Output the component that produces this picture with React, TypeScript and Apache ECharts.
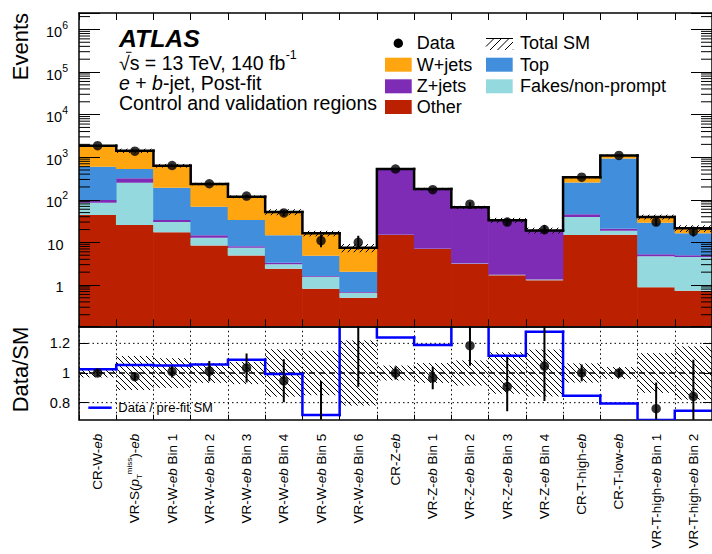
import React, { useEffect, useRef } from 'react';
import * as echarts from 'echarts';

// ---------------- data ----------------
const categories = [
  'CR-W-eb', 'VR-S(pTmiss)-eb', 'VR-W-eb Bin 1', 'VR-W-eb Bin 2', 'VR-W-eb Bin 3',
  'VR-W-eb Bin 4', 'VR-W-eb Bin 5', 'VR-W-eb Bin 6', 'CR-Z-eb', 'VR-Z-eb Bin 1',
  'VR-Z-eb Bin 2', 'VR-Z-eb Bin 3', 'VR-Z-eb Bin 4', 'CR-T-high-eb', 'CR-T-low-eb',
  'VR-T-high-eb Bin 1', 'VR-T-high-eb Bin 2',
];

// stacked backgrounds, bottom -> top
const otherEvents = [44, 25.6, 17.3, 8.4, 4.9, 2.41, 0.82, 0.5, 14.9, 7.0, 3.1, 1.69, 1.29, 14.9, 15.2, 0.88, 0.73];
const fakesEvents = [41, 226, 12.7, 4.5, 2.6, 0.65, 0.73, 0.16, 0.3, 0.1, 0.1, 0.05, 0.05, 24.6, 3.6, 3.82, 3.81];
const zjetsEvents = [14, 68, 3.6, 1.8, 0.6, 0.28, 0.08, 0.02, 509, 171, 63, 31, 17.6, 6.2, 2.2, 0.55, 0.44];
const topEvents = [499, 208, 158, 54.3, 25.5, 11.4, 3.24, 1.37, 3, 0.5, 0.3, 0.2, 0.1, 209, 909, 23.75, 11.4];
const wjetsEvents = [1262, 892, 441, 166, 84.4, 37, 11.4, 5.45, 1, 0.4, 0.2, 0.1, 0.06, 85, 170, 10.5, 5.0];

const dataEvents = [1860, 1384, 638, 238, 122, 49, 11, 10, 528, 173, 79, 30, 20, 340, 1100, 30, 18];
const dataErrUp = [43, 37, 25, 16, 11.5, 7.5, 4.4, 4.3, 23, 13.5, 9, 6.6, 5.5, 19, 33, 7, 5.3];
const dataErrDown = [43, 37, 25, 16, 11.5, 7.5, 3.3, 3.2, 23, 13.5, 9, 5.5, 4.5, 19, 33, 5.5, 4.2];

// relative post-fit uncertainty of the total SM
const totalUnc = [0.03, 0.115, 0.1, 0.067, 0.075, 0.16, 0.15, 0.22, 0.05, 0.067, 0.085, 0.14, 0.158, 0.065, 0.04, 0.134, 0.18];
// data / pre-fit SM
const prefitRatio = [1.025, 1.054, 1.05, 1.058, 1.09, 0.993, 0.717, 1.5, 1.24, 1.189, 1.5, 1.117, 1.279, 0.847, 0.795, 0.683, 0.746];

const logTickExponents = [0, 1, 2, 3, 4, 5, 6];
const ratioTicks = [0.8, 1, 1.2];

// ---------------- styles ----------------
const FONT = "'Liberation Sans', Arial, Helvetica, sans-serif";
const layerStyles = [
  { name: 'Other', color: '#bb2000' },
  { name: 'Fakes/non-prompt', color: '#94d9dd' },
  { name: 'Z+jets', color: '#7e2bb6' },
  { name: 'Top', color: '#418fdc' },
  { name: 'W+jets', color: '#fea50f' },
];
const Y_MIN = 0.107;
const Y_MAX = 2.43e6;
const R_MIN = 0.685;
const R_MAX = 1.315;

const N = categories.length;
const layers = [otherEvents, fakesEvents, zjetsEvents, topEvents, wjetsEvents];
const lowers: number[][] = [];
const uppers: number[][] = [];
let running = new Array(N).fill(0);
layers.forEach((layer) => {
  lowers.push(running.slice());
  running = running.map((r, i) => r + layer[i]);
  uppers.push(running.slice());
});
const totalSM = running;

function hatch(x0: number, y0: number, x1: number, y1: number, step: number, dir: number, lw = 1) {
  const out: any[] = [];
  if (x1 <= x0 || y1 <= y0) return out;
  const style = { stroke: '#000', lineWidth: lw };
  if (dir > 0) {
    const cMin = y0 - x1;
    const cMax = y1 - x0;
    for (let c = Math.ceil(cMin / step) * step; c <= cMax; c += step) {
      const xs = Math.max(x0, y0 - c);
      const xe = Math.min(x1, y1 - c);
      if (xe - xs > 0.3) out.push({ type: 'line', shape: { x1: xs, y1: xs + c, x2: xe, y2: xe + c }, style });
    }
  } else {
    const cMin = x0 + y0;
    const cMax = x1 + y1;
    for (let c = Math.ceil(cMin / step) * step; c <= cMax; c += step) {
      const xs = Math.max(x0, c - y1);
      const xe = Math.min(x1, c - y0);
      if (xe - xs > 0.3) out.push({ type: 'line', shape: { x1: xs, y1: c - xs, x2: xe, y2: c - xe }, style });
    }
  }
  return out;
}

const fmtCat = (s: string) =>
  s.replace('pTmiss', '{i|p}{sub|T}{sup|miss}').replace(/eb/g, '{i|eb}');

function buildOption() {
  const layerSeries = layers.map((_, k) => ({
    type: 'custom',
    name: layerStyles[k].name,
    xAxisIndex: 0,
    yAxisIndex: 0,
    clip: true,
    z: 2,
    silent: true,
    encode: { x: 0, y: [1, 2] },
    data: categories.map((_c, i) => [i, k === 0 ? Y_MIN : lowers[k][i], uppers[k][i]]),
    renderItem: (params: any, api: any) => {
      const i = api.value(0);
      const cs = params.coordSys;
      const w = cs.width / N;
      const pHi = api.coord([i, api.value(2)]);
      const pLo = api.coord([i, api.value(1)]);
      return {
        type: 'rect',
        shape: { x: pHi[0] - w / 2 - 0.3, y: pHi[1], width: w + 0.6, height: pLo[1] - pHi[1] },
        style: { fill: layerStyles[k].color },
      };
    },
  }));

  const bandRender = (dir: number) => (params: any, api: any) => {
    const i = api.value(0);
    const cs = params.coordSys;
    const w = cs.width / N;
    const pHi = api.coord([i, api.value(2)]);
    const pLo = api.coord([i, api.value(1)]);
    const x0 = pHi[0] - w / 2;
    const y0 = Math.max(cs.y, pHi[1]);
    const y1 = Math.min(cs.y + cs.height, pLo[1]);
    return { type: 'group', children: hatch(x0, y0, x0 + w, y1, 6, dir, 1) };
  };

  const stepRender = (values: number[], color: string, lw: number, lo: number, hi: number) => (params: any, api: any) => {
    const i = api.value(0);
    const cs = params.coordSys;
    const w = cs.width / N;
    const clampV = (v: number) => Math.min(hi, Math.max(lo, v));
    const p = api.coord([i, clampV(api.value(1))]);
    const xl = p[0] - w / 2;
    const pts: number[][] = [];
    if (i > 0) {
      const pp = api.coord([i - 1, clampV(values[i - 1])]);
      pts.push([xl, pp[1]]);
    }
    pts.push([xl, p[1]], [xl + w, p[1]]);
    return {
      type: 'polyline',
      shape: { points: pts },
      style: { stroke: color, lineWidth: lw, fill: null, lineCap: 'square', lineJoin: 'miter' },
    };
  };

  const errRender = (params: any, api: any) => {
    const i = api.value(0);
    const a = api.coord([i, api.value(1)]);
    const b = api.coord([i, api.value(2)]);
    return { type: 'line', shape: { x1: a[0], y1: a[1], x2: b[0], y2: b[1] }, style: { stroke: '#000', lineWidth: 2 } };
  };

  const ratioVals = dataEvents.map((d, i) => d / totalSM[i]);

  const series: any[] = [
    ...layerSeries,
    {
      type: 'custom', name: 'Total SM band', xAxisIndex: 0, yAxisIndex: 0, clip: true, z: 3, silent: true,
      encode: { x: 0, y: [1, 2] },
      data: totalSM.map((t, i) => [i, t * (1 - totalUnc[i]), t * (1 + totalUnc[i])]),
      renderItem: bandRender(-1),
    },
    {
      type: 'custom', name: 'Total SM', xAxisIndex: 0, yAxisIndex: 0, clip: true, z: 4, silent: true,
      encode: { x: 0, y: 1 },
      data: totalSM.map((t, i) => [i, t]),
      renderItem: stepRender(totalSM, '#000', 2.5, Y_MIN, Y_MAX),
    },
    {
      type: 'custom', name: 'minor ticks', xAxisIndex: 0, yAxisIndex: 0, clip: false, z: 11, silent: true,
      encode: { x: 0, y: 1 },
      data: [[0, 1]],
      renderItem: (params: any, api: any) => {
        const cs = params.coordSys;
        const children: any[] = [];
        for (let e = -1; e <= 6; e++) {
          for (let m = 2; m <= 9; m++) {
            const v = m * Math.pow(10, e);
            if (v <= Y_MIN || v >= Y_MAX) continue;
            const y = api.coord([0, v])[1];
            const st = { stroke: '#000', lineWidth: 1 };
            children.push({ type: 'line', shape: { x1: cs.x, y1: y, x2: cs.x + 11, y2: y }, style: st });
            children.push({ type: 'line', shape: { x1: cs.x + cs.width - 11, y1: y, x2: cs.x + cs.width, y2: y }, style: st });
          }
        }
        return { type: 'group', children };
      },
    },
    {
      type: 'custom', name: 'Data errors', xAxisIndex: 0, yAxisIndex: 0, clip: true, z: 5, silent: true,
      encode: { x: 0, y: [1, 2] },
      data: dataEvents.map((d, i) => [i, d - dataErrDown[i], d + dataErrUp[i]]),
      renderItem: errRender,
    },
    {
      type: 'scatter', name: 'Data', xAxisIndex: 0, yAxisIndex: 0, z: 6, silent: true,
      symbol: 'circle', symbolSize: 9.5, itemStyle: { color: '#000' },
      data: dataEvents.map((d, i) => [i, d]),
    },
    // ratio panel
    {
      type: 'custom', name: 'guides', xAxisIndex: 2, yAxisIndex: 2, clip: true, z: 1, silent: true,
      encode: { x: 0, y: 1 },
      data: [[0, 1]],
      renderItem: (params: any, api: any) => {
        const cs = params.coordSys;
        const children = ratioTicks.map((v) => {
          const y = api.coord([0, v])[1];
          return {
            type: 'line',
            shape: { x1: cs.x, y1: y, x2: cs.x + cs.width, y2: y },
            style: v === 1
              ? { stroke: '#000', lineWidth: 1.5, lineDash: [6, 4] }
              : { stroke: '#000', lineWidth: 1, lineDash: [1.5, 3] },
          };
        });
        return { type: 'group', children };
      },
    },
    {
      type: 'custom', name: 'ratio band', xAxisIndex: 2, yAxisIndex: 2, clip: true, z: 2, silent: true,
      encode: { x: 0, y: [1, 2] },
      data: totalUnc.map((u, i) => [i, 1 - u, 1 + u]),
      renderItem: bandRender(1),
    },
    {
      type: 'custom', name: 'Data / pre-fit SM', xAxisIndex: 2, yAxisIndex: 2, clip: true, z: 3, silent: true,
      encode: { x: 0, y: 1 },
      data: prefitRatio.map((r, i) => [i, r]),
      renderItem: stepRender(prefitRatio, '#0000ff', 2.5, R_MIN - 0.05, R_MAX + 0.05),
    },
    {
      type: 'custom', name: 'ratio errors', xAxisIndex: 2, yAxisIndex: 2, clip: true, z: 4, silent: true,
      encode: { x: 0, y: [1, 2] },
      data: ratioVals.map((r, i) => [i, r - dataErrDown[i] / totalSM[i], r + dataErrUp[i] / totalSM[i]]),
      renderItem: errRender,
    },
    {
      type: 'scatter', name: 'Data/SM', xAxisIndex: 2, yAxisIndex: 2, z: 5, silent: true, clip: true,
      symbol: 'circle', symbolSize: 9.5, itemStyle: { color: '#000' },
      data: ratioVals.map((r, i) => [i, r]),
    },
  ];

  const axisLine = { show: true, onZero: false, lineStyle: { color: '#000', width: 1.5 } };

  const xAxis = [
    {
      gridIndex: 0, type: 'category', data: categories, position: 'bottom', boundaryGap: true, z: 10,
      axisLine, axisTick: { show: true, inside: true, length: 7, interval: 0, lineStyle: { color: '#000', width: 1 } },
      axisLabel: { show: false }, splitLine: { show: false },
    },
    {
      gridIndex: 0, type: 'category', data: categories, position: 'top', boundaryGap: true, z: 10,
      axisLine, axisTick: { show: true, inside: true, length: 7, interval: 0, lineStyle: { color: '#000', width: 1 } },
      axisLabel: { show: false }, splitLine: { show: false },
    },
    {
      gridIndex: 1, type: 'category', data: categories, position: 'bottom', boundaryGap: true, z: 1,
      axisLine, axisTick: { show: true, inside: true, length: 5, interval: 0, lineStyle: { color: '#000', width: 1 } },
      splitLine: { show: true, interval: 0, lineStyle: { color: '#000', width: 1, type: [1.5, 3] } },
      axisLabel: {
        show: true, interval: 0, rotate: 90, margin: 14, color: '#000', fontFamily: FONT, fontSize: 13.5, lineHeight: 18,
        formatter: (v: string) => fmtCat(v),
        rich: {
          i: { fontStyle: 'italic', fontFamily: FONT, fontSize: 13.5, color: '#000', lineHeight: 18 },
          sub: { fontFamily: FONT, fontSize: 8, color: '#000', lineHeight: 9, verticalAlign: 'bottom' },
          sup: { fontFamily: FONT, fontSize: 8, color: '#000', lineHeight: 9, verticalAlign: 'top' },
        },
      },
    },
    {
      gridIndex: 1, type: 'category', data: categories, position: 'top', boundaryGap: true, z: 10,
      axisLine, axisTick: { show: false }, axisLabel: { show: false }, splitLine: { show: false },
    },
  ];

  const logLabel = (v: number) => {
    const e = Math.log10(v);
    const r = Math.round(e);
    if (Math.abs(e - r) > 1e-3 || !logTickExponents.includes(r)) return '';
    if (r === 0) return '{b|1}{pad| }';
    if (r === 1) return '{b|10}{pad| }';
    return `{b|10}{s|${r}}`;
  };

  const yAxis = [
    {
      gridIndex: 0, type: 'log', logBase: 10, min: Y_MIN, max: Y_MAX, position: 'left', z: 10,
      axisLine, axisTick: { show: true, inside: true, length: 21, lineStyle: { color: '#000', width: 1 } },
      splitLine: { show: false },
      axisLabel: {
        show: true, margin: 11, formatter: logLabel, color: '#000',
        rich: {
          b: { fontFamily: FONT, fontSize: 14.5, color: '#000', lineHeight: 20, verticalAlign: 'bottom' },
          s: { fontFamily: FONT, fontSize: 10.5, color: '#000', lineHeight: 12, verticalAlign: 'top' },
          pad: { fontFamily: FONT, fontSize: 10.5, width: 4.5, lineHeight: 12 },
        },
      },
    },
    {
      gridIndex: 0, type: 'log', logBase: 10, min: Y_MIN, max: Y_MAX, position: 'right', z: 10,
      axisLine, axisTick: { show: true, inside: true, length: 21, lineStyle: { color: '#000', width: 1 } },
      splitLine: { show: false }, axisLabel: { show: false },
    },
    {
      gridIndex: 1, type: 'value', min: R_MIN, max: R_MAX, position: 'left', z: 10,
      axisLine,
      axisTick: { show: true, inside: true, length: 9, customValues: ratioTicks, lineStyle: { color: '#000', width: 1 } },
      splitLine: { show: false },
      axisLabel: {
        show: true, margin: 9, customValues: ratioTicks, color: '#000', fontFamily: FONT, fontSize: 14.5,
        formatter: (v: number) => (ratioTicks.some((t) => Math.abs(t - v) < 1e-6) ? String(Math.round(v * 10) / 10) : ''),
      },
    },
    {
      gridIndex: 1, type: 'value', min: R_MIN, max: R_MAX, position: 'right', z: 10,
      axisLine,
      axisTick: { show: true, inside: true, length: 9, customValues: ratioTicks, lineStyle: { color: '#000', width: 1 } },
      splitLine: { show: false }, axisLabel: { show: false },
    },
  ];

  const txt = (text: string, x: number, y: number, size: number, extra: any = {}) => ({
    type: 'text', x, y, silent: true, z: 20,
    style: {
      text, fill: '#000', fontFamily: FONT, fontSize: size,
      align: 'left', textAlign: 'left', verticalAlign: 'middle', textVerticalAlign: 'middle', ...extra,
    },
  });
  const box = (x: number, y: number, color: string) => ({
    type: 'rect', z: 20, silent: true, shape: { x, y, width: 26.7, height: 14 }, style: { fill: color },
  });

  const graphic: any[] = [
    // y titles
    { ...txt('Events', 20, 13, 22, { align: 'right', textAlign: 'right' }), rotation: Math.PI / 2 },
    { ...txt('Data/SM', 20, 326.7, 22, { align: 'right', textAlign: 'right' }), rotation: Math.PI / 2 },
    // ATLAS label
    txt('ATLAS', 119, 38.3, 24.8, { fontWeight: 'bold', fontStyle: 'italic' }),
    txt('{t|√s = 13 TeV, 140 fb}{sup|-1}', 119, 60.5, 19.5, {
      rich: {
        t: { fontFamily: FONT, fontSize: 19.5, lineHeight: 24, verticalAlign: 'bottom', color: '#000' },
        sup: { fontFamily: FONT, fontSize: 12.5, lineHeight: 12, verticalAlign: 'top', color: '#000' },
      },
    }),
    { type: 'line', z: 20, silent: true, shape: { x1: 126, y1: 52.3, x2: 131.5, y2: 52.3 }, style: { stroke: '#000', lineWidth: 1 } },
    txt('{i|e}{t| + }{i|b}{t|-jet, Post-fit}', 119, 82.5, 19.5, {
      rich: {
        i: { fontFamily: FONT, fontSize: 19.5, fontStyle: 'italic', color: '#000' },
        t: { fontFamily: FONT, fontSize: 19.5, color: '#000' },
      },
    }),
    txt('Control and validation regions', 119, 102.5, 19.5),
    // legend column 1
    { type: 'circle', z: 20, silent: true, shape: { cx: 398.3, cy: 43.3, r: 4.7 }, style: { fill: '#000' } },
    txt('Data', 416.7, 43.3, 18),
    box(385, 57.7, layerStyles[4].color),
    txt('W+jets', 416.7, 64.7, 18),
    box(385, 79.3, layerStyles[2].color),
    txt('Z+jets', 416.7, 86.3, 18),
    box(385, 100, layerStyles[0].color),
    txt('Other', 416.7, 107, 18),
    // legend column 2
    {
      type: 'group', z: 20, silent: true,
      children: [
        ...hatch(486, 38, 513, 50, 7.5, -1, 1),
        { type: 'line', shape: { x1: 486, y1: 38.5, x2: 513, y2: 38.5 }, style: { stroke: '#000', lineWidth: 1 } },
      ],
    },
    txt('Total SM', 520, 43.3, 18),
    box(486, 57.7, layerStyles[3].color),
    txt('Top', 520, 64.7, 18),
    box(486, 79.3, layerStyles[1].color),
    txt('Fakes/non-prompt', 520, 86.3, 18),
    // ratio legend
    { type: 'line', z: 20, silent: true, shape: { x1: 88.3, y1: 407.7, x2: 111.7, y2: 407.7 }, style: { stroke: '#0000ff', lineWidth: 2.5 } },
    txt('Data / pre-fit SM', 118.3, 407.7, 13),
  ];

  return {
    animation: false,
    backgroundColor: '#fff',
    textStyle: { fontFamily: FONT },
    grid: [
      { left: 79, top: 13, width: 640.4, height: 313.3, show: false },
      { left: 79, top: 326.3, width: 640.4, height: 93.4, show: false },
    ],
    xAxis,
    yAxis,
    series,
    graphic,
  };
}

export default function App() {
  const ref = useRef<HTMLDivElement>(null);
  useEffect(() => {
    if (!ref.current) return;
    const chart = echarts.init(ref.current, null, { renderer: 'svg' });
    chart.setOption(buildOption() as any);
    return () => chart.dispose();
  }, []);
  return (
    <div
      ref={ref}
      style={{ position: 'fixed', left: 0, top: 0, width: 712, height: 554, background: '#fff' }}
    />
  );
}
